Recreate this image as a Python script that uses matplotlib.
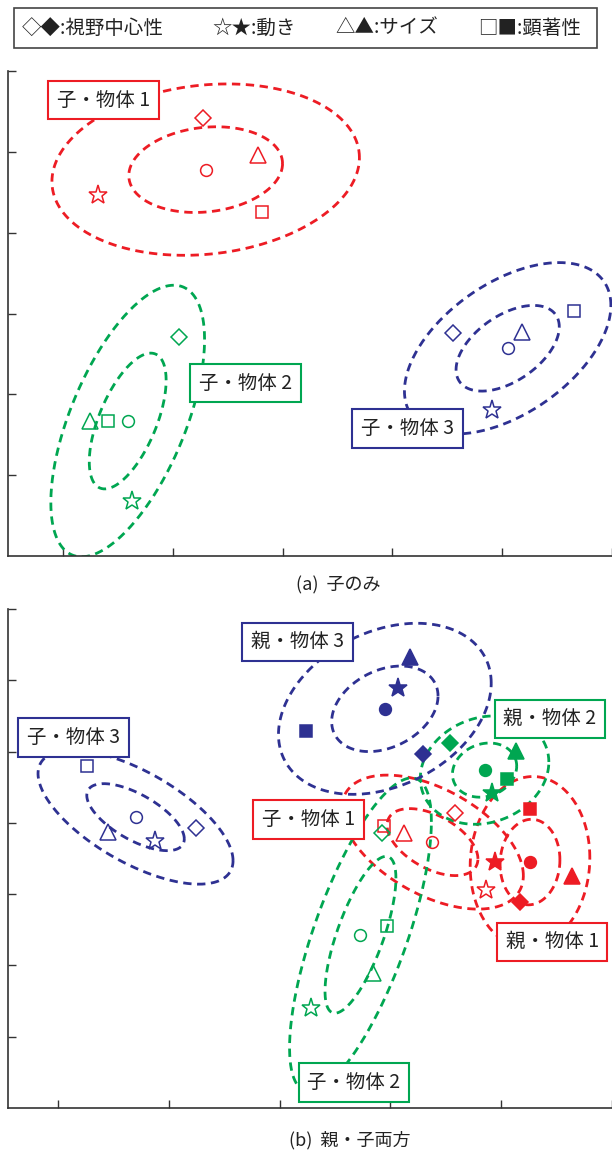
import numpy as np
import matplotlib.pyplot as plt
from matplotlib.patches import Rectangle

plt.rcParams['font.family'] = ['Noto Sans CJK JP', 'DejaVu Sans']

RED = '#ed1c24'
GREEN = '#00a651'
BLUE = '#2e3192'

# order of the four features: 視野中心性, 動き, サイズ, 顕著性
markers = ['D', '*', '^', 's']
msizes = [8.5, 14, 11, 8.5]

# (a) 子のみ
a_names = ['子・物体 1', '子・物体 2', '子・物体 3']
a_colors = [RED, GREEN, BLUE]
a_x = [[2.28, 1.32, 2.78, 2.81], [2.06, 1.63, 1.25, 1.41], [4.55, 4.91, 5.18, 5.65]]
a_y = [[5.42, 4.47, 4.96, 4.25], [2.71, 0.68, 1.67, 1.67], [2.76, 1.81, 2.77, 3.03]]
a_cx = [2.30, 1.59, 5.05]
a_cy = [4.78, 1.67, 2.57]
a_sx = [0.70, 0.35, 0.47]
a_sy = [0.53, 0.84, 0.53]
a_r = [0.14, 0.60, 0.50]
a_lx = [1.37, 2.66, 4.14]
a_ly = [5.64, 2.14, 1.58]

# (b) 親・子両方
b_names = ['子・物体 1', '子・物体 2', '子・物体 3', '親・物体 1', '親・物体 2', '親・物体 3']
b_colors = [RED, GREEN, BLUE, RED, GREEN, BLUE]
b_filled = [False, False, False, True, True, True]
b_x = [[4.58, 4.86, 4.12, 3.94],
       [3.92, 3.28, 3.84, 3.97],
       [2.25, 1.88, 1.45, 1.26],
       [5.17, 4.94, 5.64, 5.26],
       [4.54, 4.92, 5.13, 5.05],
       [4.29, 4.07, 4.18, 3.24]]
b_y = [[4.14, 3.06, 3.86, 3.96],
       [3.86, 1.40, 1.89, 2.55],
       [3.93, 3.74, 3.87, 4.80],
       [2.89, 3.45, 3.25, 4.19],
       [5.12, 4.42, 5.01, 4.61],
       [4.96, 5.89, 6.33, 5.29]]
b_cx = [4.38, 3.73, 1.70, 5.26, 4.85, 3.95]
b_cy = [3.73, 2.43, 4.08, 3.45, 4.74, 5.60]
b_sx = [0.41, 0.32, 0.44, 0.27, 0.29, 0.48]
b_sy = [0.47, 1.10, 0.47, 0.60, 0.38, 0.60]
b_r = [-0.50, 0.72, -0.65, 0.05, 0.15, 0.30]
b_lx = [3.26, 3.67, 1.14, 5.46, 5.44, 3.16]
b_ly = [4.05, 0.36, 5.20, 2.33, 5.46, 6.54]

legend_items = ['◇◆:視野中心性', '☆★:動き', '△▲:サイズ', '□■:顕著性']


def draw_group(ax, xs, ys, cx, cy, sx, sy, r, color, filled, name, lx, ly):
    t = np.linspace(0, 2 * np.pi, 300)
    for k in (1, 2):
        ex = cx + k * sx * np.cos(t)
        ey = cy + k * sy * (r * np.cos(t) + np.sqrt(1 - r ** 2) * np.sin(t))
        ax.plot(ex, ey, color=color, lw=2.0, linestyle=(0, (3, 2)), zorder=2)
    fc = color if filled else 'none'
    for x, y, m, s in zip(xs, ys, markers, msizes):
        ax.plot(x, y, marker=m, ms=s, mfc=fc, mec=color, mew=1.1, ls='none', zorder=4)
    ax.plot(cx, cy, marker='o', ms=8.5, mfc=fc, mec=color, mew=1.1, ls='none', zorder=4)
    ax.text(lx, ly, name, fontsize=14, color='#222222', ha='center', va='center', zorder=6,
            bbox=dict(boxstyle='square,pad=0.45', fc='white', ec=color, lw=1.5))


def style_axes(ax, ytop, xleft):
    ax.set_xlim(xleft, 6)
    ax.set_ylim(0, ytop)
    ax.set_xticks(range(1, 7))
    ax.set_yticks(range(1, ytop + 1))
    ax.tick_params(direction='in', length=6, width=1.0, color='#333333',
                   labelbottom=False, labelleft=False)
    for s in ['top', 'right']:
        ax.spines[s].set_visible(False)
    for s in ['left', 'bottom']:
        ax.spines[s].set_color('#333333')
        ax.spines[s].set_linewidth(1.2)


fig = plt.figure(figsize=(6.12, 11.51), dpi=100)

ax1 = fig.add_axes([0.01307, 0.51694, 0.98693, 0.42137])
for i in range(3):
    draw_group(ax1, a_x[i], a_y[i], a_cx[i], a_cy[i], a_sx[i], a_sy[i], a_r[i],
               a_colors[i], False, a_names[i], a_lx[i], a_ly[i])
style_axes(ax1, 6, 0.5)

ax2 = fig.add_axes([0.01307, 0.03736, 0.98693, 0.43353])
for i in range(6):
    draw_group(ax2, b_x[i], b_y[i], b_cx[i], b_cy[i], b_sx[i], b_sy[i], b_r[i],
               b_colors[i], b_filled[i], b_names[i], b_lx[i], b_ly[i])
style_axes(ax2, 7, 0.549)

# legend box at the top
fig.patches.append(Rectangle((14 / 612, 1 - 48 / 1151), 583 / 612, 40 / 1151,
                             transform=fig.transFigure, fill=False, ec='#444444', lw=1.2))
for txt, px in zip(legend_items, [22, 212, 335, 478]):
    fig.text(px / 612, 1 - 28 / 1151, txt, fontsize=14, color='#222222', ha='left', va='center')

fig.text(338 / 612, 1 - 585 / 1151, '(a)  子のみ', fontsize=13, color='#222222', ha='center', va='center')
fig.text(350 / 612, 1 - 1140 / 1151, '(b)  親・子両方', fontsize=13, color='#222222', ha='center', va='center')

fig.savefig('out.png', dpi=100)
